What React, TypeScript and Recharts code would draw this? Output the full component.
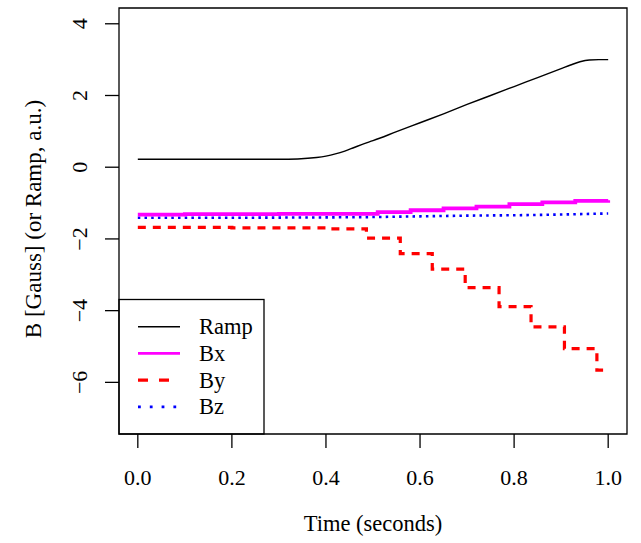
import { LineChart, Line, XAxis, YAxis, ReferenceArea, Customized } from "recharts";

const FONT = "'Liberation Serif', 'Times New Roman', serif";

const timeTicks = [0, 0.2, 0.4, 0.6, 0.8, 1.0];
const fieldTicks = [-6, -4, -2, 0, 2, 4];

// ramp signal (a.u.)
const rampTime = [0, 0.1, 0.2, 0.3, 0.34, 0.38, 0.4, 0.42, 0.44, 0.46, 0.48, 0.5, 0.55, 0.6, 0.65, 0.7, 0.75, 0.8, 0.85, 0.9, 0.92, 0.94, 0.96, 0.98, 1.0];
const rampValue = [0.22, 0.22, 0.22, 0.22, 0.23, 0.27, 0.31, 0.37, 0.45, 0.55, 0.65, 0.74, 0.99, 1.24, 1.49, 1.75, 2.0, 2.25, 2.5, 2.75, 2.85, 2.94, 2.99, 3.0, 3.0];

// field components (Gauss)
const bxTime = [0, 0.1, 0.2, 0.3, 0.4, 0.51, 0.58, 0.65, 0.72, 0.79, 0.86, 0.93, 1.0];
const bxValue = [-1.32, -1.31, -1.31, -1.3, -1.3, -1.25, -1.2, -1.15, -1.1, -1.03, -0.98, -0.94, -0.92];

const byTime = [0, 0.2, 0.4, 0.486, 0.558, 0.626, 0.696, 0.768, 0.836, 0.907, 0.976, 1.0];
const byValue = [-1.68, -1.69, -1.72, -1.98, -2.41, -2.84, -3.36, -3.89, -4.45, -5.06, -5.66, -5.68];

const bzTime = [0, 0.2, 0.4, 0.5, 0.6, 0.7, 0.8, 0.9, 1.0];
const bzValue = [-1.41, -1.41, -1.4, -1.39, -1.37, -1.35, -1.34, -1.32, -1.29];

const zip = (ts: number[], vs: number[]) => ts.map((t, i) => ({ t, v: vs[i] }));

const legendRows = [
  { name: "Ramp", color: "#000000", width: 1.4, dash: undefined },
  { name: "Bx", color: "#ff00ff", width: 2.8, dash: undefined },
  { name: "By", color: "#ff0000", width: 3.2, dash: "10 11" },
  { name: "Bz", color: "#0000ff", width: 2.8, dash: "2.8 9" },
];

const minus = (v: number) => (v < 0 ? "\u2212" + Math.abs(v) : String(v));

function YTick({ x, y, payload }: any) {
  return (
    <text transform={`translate(${x - 18}, ${y}) rotate(-90)`} textAnchor="middle" style={{ fontFamily: FONT, fontSize: 22 }} fill="#000">
      {minus(payload.value)}
    </text>
  );
}

function Annotations() {
  return (
    <g style={{ fontFamily: FONT }} fill="#000">
      <text transform="translate(41, 219) rotate(-90)" textAnchor="middle" style={{ fontFamily: FONT, fontSize: 23 }}>B [Gauss] (or Ramp, a.u.)</text>
      <text x={373} y={531} textAnchor="middle" style={{ fontFamily: FONT, fontSize: 22.5 }}>Time (seconds)</text>
      <rect x={119} y={299.5} width={145} height={134.5} fill="#fff" stroke="#000" strokeWidth={1.3} />
      {legendRows.map((r, i) => {
        const y = 326.7 + i * 26.7;
        return (
          <g key={r.name}>
            <line x1={138} x2={180} y1={y} y2={y} stroke={r.color} strokeWidth={r.width} strokeDasharray={r.dash} />
            <text x={199} y={y + 7.5} style={{ fontFamily: FONT, fontSize: 22.5 }}>{r.name}</text>
          </g>
        );
      })}
    </g>
  );
}

export default function App() {
  return (
    <div style={{ position: "absolute", left: 0, top: 0, background: "#fff" }}>
      <LineChart width={641} height={543} margin={{ top: 8, right: 14, left: 59, bottom: 49 }}>
        <XAxis
          type="number"
          dataKey="t"
          domain={[-0.04, 1.04]}
          allowDataOverflow
          ticks={timeTicks}
          tickFormatter={(v: number) => v.toFixed(1)}
          height={60}
          axisLine={false}
          tickSize={14}
          tickMargin={21}
          tickLine={{ stroke: "#000", strokeWidth: 1.3 }}
          tick={{ fill: "#000", fontSize: 22, fontFamily: FONT }}
        />
        <YAxis
          type="number"
          dataKey="v"
          domain={[-7.44, 4.44]}
          allowDataOverflow
          ticks={fieldTicks}
          width={60}
          axisLine={false}
          tickSize={14}
          tickMargin={0}
          tickLine={{ stroke: "#000", strokeWidth: 1.3 }}
          tick={<YTick />}
        />
        <ReferenceArea x1={-0.04} x2={1.04} y1={-7.44} y2={4.44} fill="none" fillOpacity={0} stroke="#000" strokeWidth={1.3} ifOverflow="visible" />
        <Line data={zip(rampTime, rampValue)} dataKey="v" type="monotone" stroke="#000" strokeWidth={1.4} dot={false} isAnimationActive={false} />
        <Line data={zip(bzTime, bzValue)} dataKey="v" type="linear" stroke="#0000ff" strokeWidth={2.6} strokeDasharray="2.5 4.2" dot={false} isAnimationActive={false} />
        <Line data={zip(byTime, byValue)} dataKey="v" type="stepAfter" stroke="#ff0000" strokeWidth={3.2} strokeDasharray="8 7" dot={false} isAnimationActive={false} />
        <Line data={zip(bxTime, bxValue)} dataKey="v" type="stepAfter" stroke="#ff00ff" strokeWidth={3.8} dot={false} isAnimationActive={false} />
        <Customized component={Annotations} />
      </LineChart>
    </div>
  );
}
